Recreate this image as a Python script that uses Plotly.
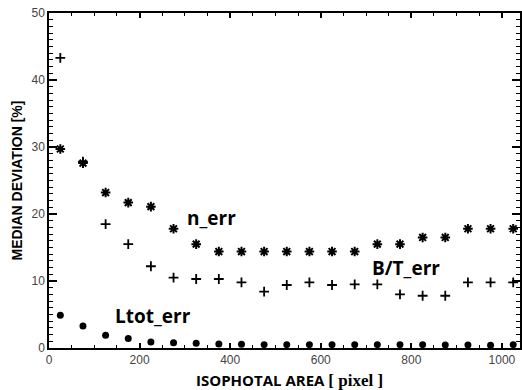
import plotly.graph_objects as go

area = [25, 75, 125, 175, 225, 275, 325, 375, 425, 475, 525, 575, 625, 675,
        725, 775, 825, 875, 925, 975, 1025]
n_err = [29.7, 27.6, 23.2, 21.7, 21.1, 17.8, 15.5, 14.4, 14.4, 14.4, 14.4, 14.4,
         14.4, 14.4, 15.5, 15.5, 16.5, 16.5, 17.8, 17.8, 17.8]
bt_err = [43.3, 27.8, 18.5, 15.5, 12.2, 10.5, 10.3, 10.3, 9.8, 8.4, 9.4, 9.8,
          9.4, 9.5, 9.5, 8.0, 7.8, 7.8, 9.8, 9.8, 9.8]
ltot_err = [4.9, 3.3, 1.9, 1.4, 0.9, 0.8, 0.7, 0.6, 0.55, 0.5, 0.5, 0.5, 0.5,
            0.5, 0.5, 0.5, 0.5, 0.45, 0.45, 0.4, 0.5]

fig = go.Figure()
fig.add_trace(go.Scatter(x=area, y=n_err, mode="markers", name="n_err",
                         marker=dict(symbol="asterisk-open", size=8, color="black",
                                     line=dict(color="black", width=2))))
fig.add_trace(go.Scatter(x=area, y=bt_err, mode="markers", name="B/T_err",
                         marker=dict(symbol="cross-thin-open", size=7, color="black",
                                     line=dict(color="black", width=1.8))))
fig.add_trace(go.Scatter(x=area, y=ltot_err, mode="markers", name="Ltot_err",
                         marker=dict(symbol="circle", size=7, color="black")))
# invisible trace on the mirrored axes so top/right ticks are drawn
fig.add_trace(go.Scatter(x=area, y=n_err, mode="markers", xaxis="x2", yaxis="y2",
                         marker=dict(opacity=0), hoverinfo="skip", showlegend=False))

tickfont = dict(family="Liberation Sans, Arial, sans-serif", size=12, color="#444")
lab_font = dict(family="Open Sans, sans-serif", size=19, color="black")

common_x = dict(range=[0, 1040], dtick=200, tick0=0, ticks="inside", ticklen=5,
                tickwidth=1.5, tickcolor="black", showline=True, linewidth=1.5,
                linecolor="black", showgrid=False, zeroline=False,
                minor=dict(dtick=50, ticks="inside", ticklen=3, tickwidth=1.2,
                           tickcolor="black", showgrid=False))
common_y = dict(range=[0, 50], dtick=10, tick0=0, ticks="inside", ticklen=8,
                tickwidth=1.5, tickcolor="black", showline=True, linewidth=1.5,
                linecolor="black", showgrid=False, zeroline=False,
                minor=dict(dtick=1, ticks="inside", ticklen=4, tickwidth=1.2,
                           tickcolor="black", showgrid=False))

fig.update_layout(
    width=522, height=390,
    margin=dict(l=49, r=2, t=13, b=42),
    paper_bgcolor="white", plot_bgcolor="white",
    showlegend=False,
    xaxis=dict(**common_x, tickfont=tickfont),
    yaxis=dict(**common_y, tickfont=tickfont),
    xaxis2=dict(**common_x, overlaying="x", side="top", showticklabels=False),
    yaxis2=dict(**common_y, overlaying="y", side="right", showticklabels=False),
    annotations=[
        dict(x=301, y=19.4, xref="x", yref="y", text="<b>n_err</b>", showarrow=False,
             xanchor="left", yanchor="middle", font=lab_font),
        dict(x=708, y=11.9, xref="x", yref="y", text="<b>B/T_err</b>", showarrow=False,
             xanchor="left", yanchor="middle", font=lab_font),
        dict(x=142, y=4.8, xref="x", yref="y", text="<b>Ltot_err</b>", showarrow=False,
             xanchor="left", yanchor="middle", font=lab_font),
        dict(x=-0.070, y=0.5, xref="paper", yref="paper",
             text="<b>MEDIAN DEVIATION [%]</b>", textangle=-90, showarrow=False,
             xanchor="center", yanchor="middle",
             font=dict(family="Liberation Sans, Arial, sans-serif", size=14, color="black")),
        dict(x=0.51, y=-0.0955, xref="paper", yref="paper",
             text="<b>ISOPHOTAL AREA</b> <span style=\"font-family:'Liberation Serif', serif; font-size:17px\"><b>[ pixel ]</b></span>",
             showarrow=False, xanchor="center", yanchor="middle",
             font=dict(family="Open Sans, sans-serif", size=15, color="black")),
    ],
)

fig.write_html("out.html")
